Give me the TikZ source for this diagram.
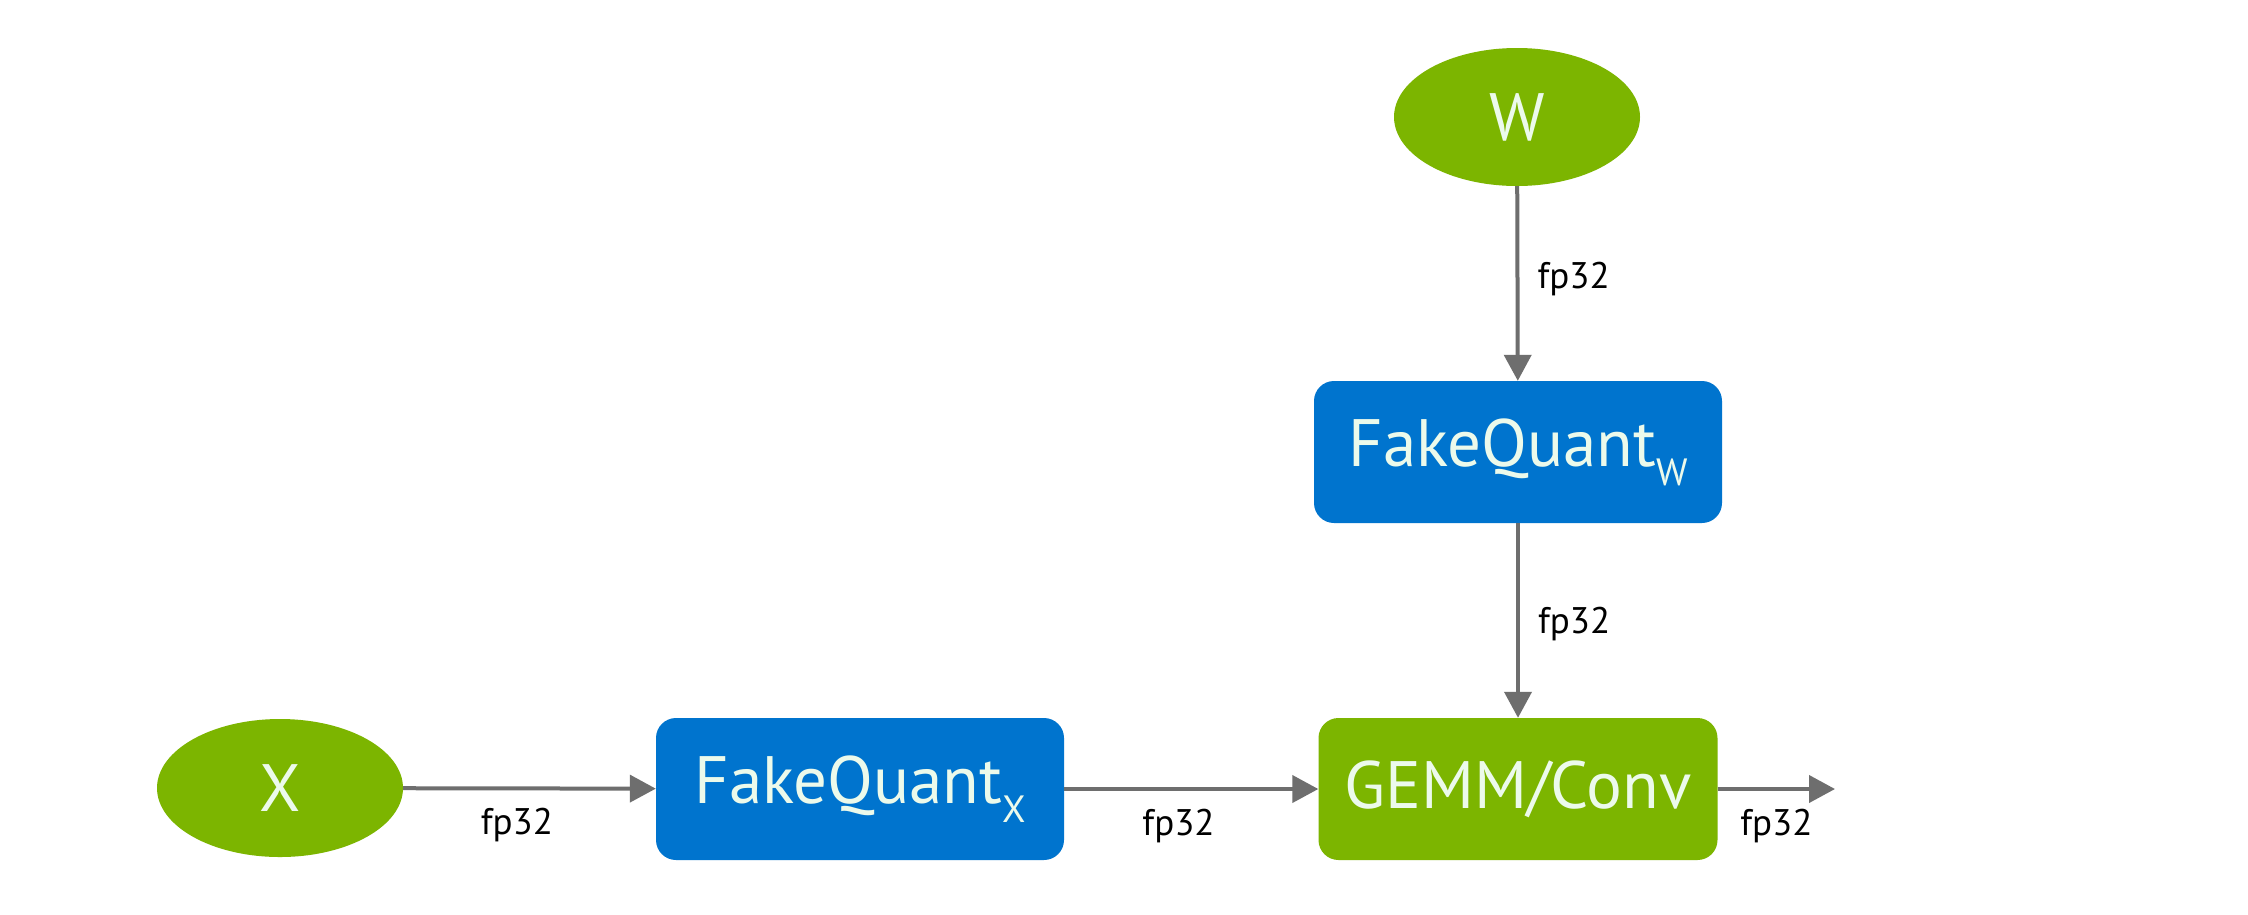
\documentclass[tikz,border=0pt]{standalone}
\usepackage{fontspec}
\setmainfont{PT Sans}
\usetikzlibrary{arrows.meta,shapes.geometric}
\definecolor{nvgreen}{RGB}{124,181,0}
\definecolor{nvblue}{RGB}{0,116,206}
\definecolor{arrgray}{RGB}{110,110,110}
\definecolor{boxtext}{RGB}{236,250,235}
\newcommand{\subq}[1]{\raisebox{-0.28em}{\fontsize{38}{42}\selectfont #1}}
\begin{document}
\begin{tikzpicture}[x=1pt,y=-1pt,
  every node/.style={font=\fontsize{67}{74}\selectfont},
  oval/.style={ellipse, fill=nvgreen, text=boxtext, minimum width=246pt, minimum height=138pt, inner sep=0pt},
  bluebox/.style={rectangle, rounded corners=20pt, fill=nvblue, text=boxtext, minimum width=408pt, minimum height=142pt, inner sep=0pt},
  greenbox/.style={rectangle, rounded corners=20pt, fill=nvgreen, text=boxtext, minimum width=399pt, minimum height=142pt, inner sep=0pt},
  arr/.style={draw=arrgray, line width=4pt, -{Triangle[length=26pt,width=27pt]}, color=arrgray},
  lbl/.style={font=\fontsize{37}{42}\selectfont, text=black, inner sep=0pt}]
\useasboundingbox[fill=white] (0,0) rectangle (2248,914);
\node[oval] (W) at (1517,117) {W};
\node[bluebox] (FQW) at (1518,452) {FakeQuant\subq{W}};
\node[greenbox] (GEMM) at (1518,789) {GEMM/Conv};
\node[bluebox] (FQX) at (860,789) {FakeQuant\subq{X}};
\node[oval] (X) at (280,788) {X};
\coordinate (OUT) at (1835,789);
\draw[arr] (W) -- node[lbl, anchor=west, xshift=18pt, yshift=4pt] {fp32} (FQW);
\draw[arr] (FQW) -- node[lbl, anchor=west, xshift=18pt, yshift=-4pt] {fp32} (GEMM);
\draw[arr] (X) -- node[lbl, pos=0.45, anchor=north, yshift=-18pt] {fp32} (FQX);
\draw[arr] (FQX) -- node[lbl, pos=0.45, anchor=north, yshift=-18pt] {fp32} (GEMM);
\draw[arr] (GEMM) -- node[lbl, pos=0.5, anchor=north, yshift=-18pt] {fp32} (OUT);
\end{tikzpicture}
\end{document}
